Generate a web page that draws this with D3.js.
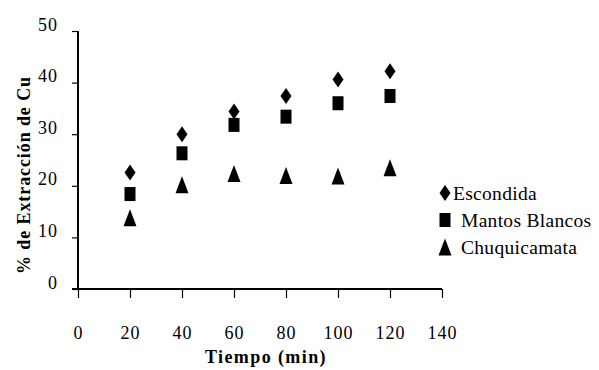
<!DOCTYPE html>
<html><head><meta charset="utf-8">
<script src="https://cdn.jsdelivr.net/npm/d3@7"></script>
</head><body style="margin:0;background:#fff"><svg id="c" width="599" height="370"></svg>
<script>
const times = [20, 40, 60, 80, 100, 120];
const escondida = [22.6, 30.0, 34.4, 37.4, 40.6, 42.2];
const mantosBlancos = [18.4, 26.3, 31.8, 33.4, 36.0, 37.4];
const chuquicamata = [13.8, 20.2, 22.4, 22.0, 21.9, 23.5];
const seriesNames = ["Escondida", "Mantos Blancos", "Chuquicamata"];
const xTicks = [0, 20, 40, 60, 80, 100, 120, 140];
const yTicks = [0, 10, 20, 30, 40, 50];

const FONT = "'Liberation Serif', 'Times New Roman', Times, serif";
const svg = d3.select("#c");
const x = d3.scaleLinear().domain([0, 140]).range([78, 442]);
const y = d3.scaleLinear().domain([0, 50]).range([289, 31]);

const xa = svg.append("g").attr("transform", "translate(0,289)")
  .call(d3.axisBottom(x).tickValues(xTicks).tickSize(9).tickFormat(() => ""));
const ya = svg.append("g").attr("transform", "translate(78,0)")
  .call(d3.axisLeft(y).tickValues(yTicks).tickSize(6).tickFormat(() => ""));
[xa, ya].forEach(a => {
  a.select(".domain").attr("stroke", "#000").attr("stroke-width", 2);
  a.selectAll(".tick line").attr("stroke", "#000").attr("stroke-width", 1.2);
});
xa.select(".domain").attr("d", "M72,0H442");
ya.select(".domain").attr("d", "M0,31V290");

// tick labels
svg.append("g").selectAll("text").data(xTicks).join("text")
  .attr("x", d => x(d) + 0.5).attr("y", 339).attr("text-anchor", "middle")
  .attr("fill", "#000").style("font-family", FONT).style("font-size", "18px")
  .style("letter-spacing", "1px").text(d => d);
svg.append("g").selectAll("text").data(yTicks).join("text")
  .attr("x", 58).attr("y", d => y(d) - 0.5).attr("text-anchor", "end")
  .attr("fill", "#000").style("font-family", FONT).style("font-size", "18px")
  .style("letter-spacing", "1px").text(d => d);

svg.append("text").attr("x", 266).attr("y", 363).attr("text-anchor", "middle")
  .style("font-family", FONT).style("font-size", "18px").style("font-weight", "bold")
  .style("letter-spacing", "1.4px").text("Tiempo (min)");
svg.append("text").attr("transform", "translate(30,175) rotate(-90)").attr("text-anchor", "middle")
  .style("font-family", FONT).style("font-size", "18px").style("font-weight", "bold")
  .style("letter-spacing", "0.9px").text("% de Extracción de Cu");

function shapePath(kind) {
  const p = d3.path();
  if (kind === 0) { const w = 5.5, h = 8; p.moveTo(0,-h); p.lineTo(w,0); p.lineTo(0,h); p.lineTo(-w,0); p.closePath(); }
  else if (kind === 1) { p.rect(-5.5, -7, 11, 14); }
  else { const w = 6.5, h = 8.5; p.moveTo(0,-h); p.lineTo(w,h); p.lineTo(-w,h); p.closePath(); }
  return p.toString();
}
const data = [escondida, mantosBlancos, chuquicamata];
data.forEach((vals, i) => {
  svg.append("g").selectAll("path").data(vals).join("path")
    .attr("d", shapePath(i))
    .attr("transform", (d, j) => `translate(${x(times[j])},${y(d)})`)
    .attr("fill", "#000");
});

const lx = [445, 445, 445], ly = [193, 220, 247], tx = [453, 461, 461];
seriesNames.forEach((n, i) => {
  svg.append("path").attr("d", shapePath(i))
    .attr("transform", `translate(${lx[i]},${ly[i]})`).attr("fill", "#000");
  svg.append("text").attr("x", tx[i]).attr("y", ly[i] + 7)
    .style("font-family", FONT).style("font-size", "19.5px").style("letter-spacing", "0.3px").text(n);
});
</script></body></html>
